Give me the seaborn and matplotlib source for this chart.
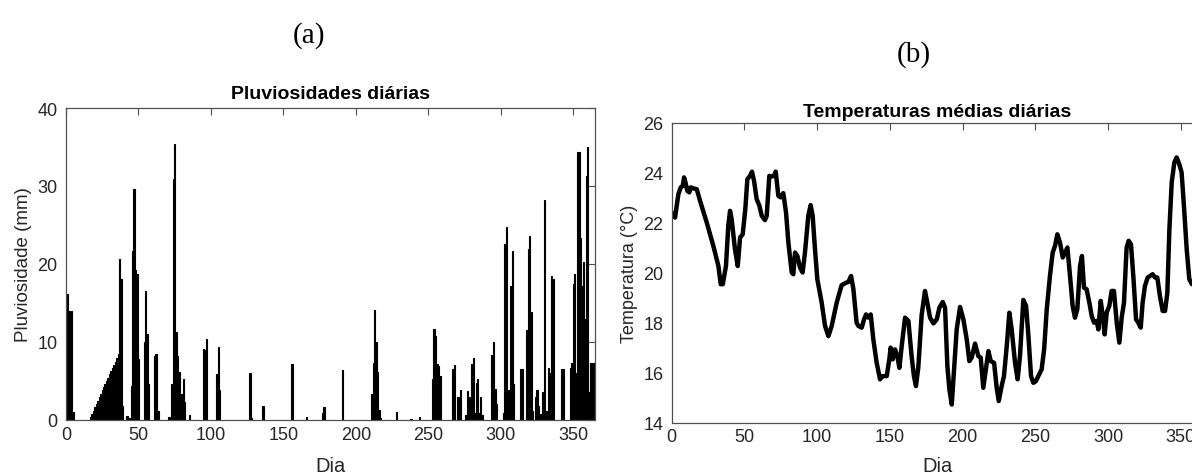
import matplotlib
matplotlib.use("Agg")
import matplotlib.pyplot as plt
import seaborn as sns
import numpy as np

# ---------------- data ----------------
rain_day = [1, 2, 3, 4, 5,
            17, 18, 19, 20, 21, 22, 23, 24, 25, 26, 27, 28, 29, 30, 31, 32, 33, 34, 35, 36,
            37, 38, 39, 42, 44, 45, 46, 47, 48, 49, 50, 54, 55, 56, 57, 61, 62, 63, 64,
            71, 73, 74, 75, 76, 77, 78, 80, 81, 82, 85, 95, 96, 97, 104, 105, 106,
            127, 128, 136, 156, 166, 177, 178, 191, 211, 212, 213, 214, 215, 216, 217,
            228, 238, 244, 253, 254, 255, 256, 257, 258, 267, 268, 270, 271, 272,
            276, 277, 278, 280, 281, 282, 283, 284, 285, 286, 287, 294, 295, 296, 297,
            302, 303, 304, 305, 307, 308, 309, 314, 315, 318, 319, 320, 321, 322,
            324, 325, 326, 327, 329, 330, 331, 332, 333, 334, 335, 336, 342, 343,
            348, 349, 350, 351, 352, 353, 354, 355, 356, 357, 358, 359, 360, 361,
            362, 363, 364, 365]
rain_mm = [16.2, 14.0, 6.5, 14.0, 1.0,
           0.4, 0.8, 1.2, 1.7, 2.1, 2.5, 2.9, 3.3, 3.8, 4.2, 4.6, 5.0, 5.4, 5.9, 6.3, 6.7, 7.1, 7.5, 8.0, 8.4,
           20.6, 18.1, 1.8, 0.5, 0.3, 4.4, 21.7, 29.6, 19.2, 18.7, 7.8, 10.0, 16.5, 11.0, 4.6, 8.2, 8.5, 1.2, 1.1,
           0.4, 4.6, 30.9, 35.4, 11.3, 8.2, 6.1, 3.3, 5.2, 2.3, 0.6, 9.1, 9.0, 10.4, 5.9, 9.4, 3.8,
           6.0, 0.2, 1.8, 7.2, 0.4, 0.9, 1.7, 6.4, 3.3, 7.3, 14.1, 10.0, 6.1, 1.3, 0.2,
           1.0, 0.1, 0.4, 5.3, 11.7, 10.8, 7.2, 6.9, 5.6, 6.6, 7.0, 2.9, 3.0, 3.8,
           0.7, 3.7, 2.9, 7.2, 8.0, 0.9, 4.8, 5.2, 0.9, 2.9, 0.7, 8.3, 10.0, 4.0, 2.1,
           0.9, 22.6, 24.8, 3.8, 17.2, 21.7, 4.6, 6.6, 6.6, 11.5, 21.9, 23.6, 13.8, 1.2,
           2.9, 3.9, 1.8, 0.8, 3.6, 28.2, 1.2, 1.2, 6.7, 6.0, 18.5, 18.1, 6.6, 6.6,
           6.7, 7.3, 17.4, 18.7, 6.0, 34.3, 34.3, 23.3, 17.2, 20.2, 12.9, 31.3, 35.0, 3.6,
           7.3, 7.3, 7.3, 7.3]

temp_day = [0.7, 2.3, 4.6, 6.2, 7.6, 8.5, 9.2, 10.8, 12.1, 13.1, 14.9, 17.2, 19.5, 24.1, 28.6,
            32.1, 33.7, 35.1, 37.3, 38.9, 40.1, 41.2, 43.5, 45.4, 47.0, 48.8, 50.6, 52.0, 53.8,
            55.2, 56.6, 58.4, 60.3, 61.9, 64.1, 65.3, 67.1, 68.7, 70.3, 71.5, 73.3, 74.9, 76.7,
            78.6, 80.2, 82.5, 83.6, 84.8, 86.4, 88.2, 90.0, 91.6, 93.9, 95.5, 96.9, 98.5, 100.1,
            103.1, 105.4, 107.7, 110.0, 113.4, 116.8, 119.8, 121.4, 123.3, 124.9, 127.1, 128.3,
            130.6, 132.2, 133.6, 135.2, 136.8, 138.6, 140.9, 143.2, 145.0, 147.8, 149.6, 150.5,
            151.9, 153.5, 155.1, 156.5, 158.1, 160.4, 162.7, 164.9, 166.5, 167.9, 169.5, 171.8,
            174.1, 175.7, 177.6, 179.9, 182.2, 184.0, 186.3, 187.9, 189.5, 190.9, 192.5, 194.1,
            195.9, 198.2, 200.5, 202.8, 204.6, 206.2, 208.5, 210.8, 212.4, 214.2, 215.6, 217.7,
            219.3, 221.6, 223.4, 224.8, 226.8, 228.4, 230.3, 232.1, 233.7, 236.0, 237.8, 239.4,
            241.7, 243.6, 245.2, 247.0, 248.6, 250.4, 252.0, 254.3, 256.0, 257.8, 260.0, 261.9,
            263.5, 265.1, 266.9, 268.8, 270.4, 272.0, 273.8, 275.6, 277.2, 278.8, 280.7, 282.0,
            283.4, 285.2, 287.1, 288.7, 290.3, 292.1, 293.3, 294.9, 296.2, 297.6, 299.0, 300.8,
            302.4, 304.0, 305.9, 307.7, 309.3, 310.9, 312.7, 314.1, 315.7, 317.3, 319.2, 320.7,
            322.4, 323.7, 325.3, 327.2, 328.8, 330.6, 332.2, 333.8, 335.6, 337.5, 339.1, 340.7,
            342.1, 343.7, 345.5, 347.1, 348.9, 350.5, 352.1, 354.0, 355.8, 357.6]
temp_c = [22.39, 22.21, 23.15, 23.42, 23.48, 23.82, 23.68, 23.28, 23.22, 23.42, 23.38, 23.35, 22.88, 22.01, 21.08,
          20.27, 19.54, 19.54, 20.27, 21.88, 22.48, 22.15, 20.94, 20.27, 21.41, 21.54, 22.55, 23.75, 23.88,
          24.05, 23.68, 22.95, 22.68, 22.28, 22.11, 22.28, 23.88, 23.86, 23.88, 24.05, 23.08, 23.02, 23.19,
          22.41, 21.21, 20.01, 19.94, 20.81, 20.67, 20.21, 20.01, 20.81, 22.28, 22.71, 22.28, 20.94, 19.74,
          18.80, 17.87, 17.46, 17.87, 18.80, 19.50, 19.60, 19.63, 19.87, 19.34, 18.00, 17.87,
          17.80, 18.13, 18.33, 18.20, 18.33, 17.33, 16.39, 15.73, 15.86, 15.86, 16.53, 17.00,
          16.53, 16.93, 16.66, 16.19, 17.06, 18.20, 18.07, 16.66, 15.86, 15.46, 16.20, 18.30,
          19.27, 18.80, 18.20, 17.97, 18.13, 18.60, 18.83, 18.60, 16.26, 15.32, 14.72, 16.13,
          17.73, 18.63, 18.13, 17.33, 16.46, 16.60, 17.16, 16.66, 16.60, 15.39, 15.99, 16.86,
          16.46, 16.39, 15.39, 14.86, 15.46, 15.86, 17.06, 18.40, 17.73, 16.39, 15.73, 16.66,
          18.91, 18.67, 17.46, 15.86, 15.59, 15.66, 15.86, 16.13, 16.93, 18.53, 19.87, 20.81,
          21.08, 21.54, 21.21, 20.61, 20.81, 21.01, 19.87, 18.67, 18.20, 18.53, 20.27, 20.67,
          19.40, 19.34, 18.80, 18.27, 18.00, 18.07, 17.73, 18.87, 18.33, 17.53, 18.40, 18.67,
          19.27, 19.27, 18.00, 17.20, 18.20, 18.80, 21.01, 21.28, 21.14, 19.87, 18.13, 18.00,
          17.80, 18.80, 19.47, 19.81, 19.87, 19.94, 19.81, 19.81, 19.07, 18.47, 18.47, 19.20,
          21.74, 23.62, 24.42, 24.62, 24.35, 24.02, 22.68, 20.94, 19.74, 19.54]

x_ticks = [0, 50, 100, 150, 200, 250, 300, 350]
rain_ticks = [0, 10, 20, 30, 40]
temp_ticks = [14, 16, 18, 20, 22, 24, 26]

# ---------------- style ----------------
sns.set_style("white")
plt.rcParams["font.family"] = ["Liberation Sans", "DejaVu Sans"]
AX = "#262626"
SP = "#505050"

fig = plt.figure(figsize=(11.92, 4.77), dpi=100)
W, H = 1192, 477
ax1 = fig.add_axes([66 / W, 1 - 421 / H, 529 / W, 312 / H])
ax2 = fig.add_axes([671.7 / W, 1 - 423.5 / H, 531 / W, 299.5 / H])

sns.barplot(x=rain_day, y=rain_mm, native_scale=True, color="black", saturation=1,
            errorbar=None, width=0.9, linewidth=0.8, edgecolor="black", ax=ax1)
sns.lineplot(x=temp_day, y=temp_c, color="black", linewidth=3.2, ax=ax2)

ax1.set_xlim(0, 365)
ax1.set_ylim(0, 40)
ax1.set_xticks(x_ticks)
ax1.set_yticks(rain_ticks)
ax2.set_xlim(0, 365)
ax2.set_ylim(14, 26)
ax2.set_xticks(x_ticks)
ax2.set_yticks(temp_ticks)

for ax in (ax1, ax2):
    for s in ax.spines.values():
        s.set_visible(True)
        s.set_color(SP)
        s.set_linewidth(0.9)
    ax.tick_params(axis="both", direction="in", top=True, right=True, length=5,
                   width=0.8, color=SP, labelcolor=AX, labelsize=13)
    ax.tick_params(axis="x", pad=4)
    ax.tick_params(axis="y", pad=6)
    ax.grid(False)

ax1.set_xlabel("Dia", fontsize=14.5, color=AX, labelpad=10)
ax1.set_ylabel("Pluviosidade (mm)", fontsize=13.5, color=AX, labelpad=4)
ax1.set_title("Pluviosidades diárias", fontsize=14, fontweight="bold", color="black", pad=7)
ax2.set_xlabel("Dia", fontsize=14.5, color=AX, labelpad=8)
ax2.set_ylabel("Temperatura (°C)", fontsize=13, color=AX, labelpad=4)
ax2.set_title("Temperaturas médias diárias", fontsize=14, fontweight="bold", color="black", pad=5)

fig.text(309 / W, 1 - 36 / H, "(a)", ha="center", va="center",
         family=["Liberation Serif", "DejaVu Serif"], fontsize=21, color="black")
fig.text(914 / W, 1 - 55 / H, "(b)", ha="center", va="center",
         family=["Liberation Serif", "DejaVu Serif"], fontsize=21, color="black")

fig.savefig("out.png", dpi=100)
